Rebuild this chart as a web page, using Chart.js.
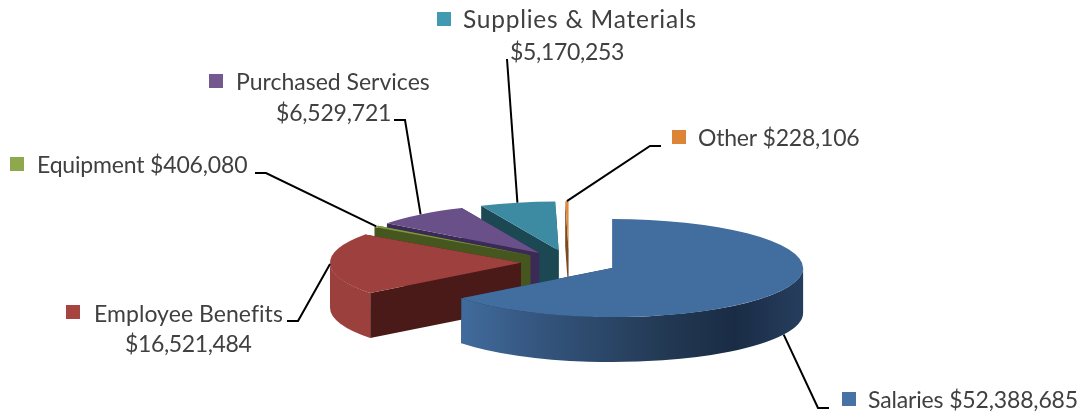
<!DOCTYPE html>
<html>
<head>
    <script src="https://cdnjs.cloudflare.com/ajax/libs/Chart.js/4.4.1/chart.umd.js"></script>
    <style>
      html, body { margin: 0; padding: 0; background: #fff; }
      canvas { display: block; }
    </style>
</head>
<body>

<canvas id="myChart" width="1084" height="417"></canvas>

<script>
// Chart data
const categories = ['Salaries', 'Employee Benefits', 'Equipment', 'Purchased Services', 'Supplies & Materials', 'Other'];
const budgetValues = [52388685, 16521484, 406080, 6529721, 5170253, 228106];

// Slice colours: top face, cut face
const topColors = ['#426d9f', '#9e413e', '#7f9a3f', '#6a5088', '#3c8ba3', '#e08a3c'];
const cutColors = ['#1d3350', '#4a1a19', '#46561f', '#3a2a55', '#1c4853', '#7a4a20'];
const sideColors = ['#1d3350', '#9c403d', '#5c7030', '#4d3a66', '#2c6678', '#a8682c'];
const markerColors = ['#4672a6', '#a8443f', '#8ea84c', '#74598f', '#4199b2', '#dd8436'];

// Label layout: marker corner, text lines as [x, baseline, text, letter spacing, font size], leader elbow points
const money = v => '$' + v.toLocaleString('en-US');
const labelLayout = [
  { marker: [842, 392], lines: [[868, 408, categories[0] + ' ' + money(budgetValues[0]), -0.15, 23]], elbow: [[818, 408], [829, 408]], bottom: true },
  { marker: [66, 305], lines: [[94, 322, categories[1], 0.05, 23], [125, 352, money(budgetValues[1]), -0.36, 23]], elbow: [[298, 321], [287, 321]] },
  { marker: [10, 157], lines: [[37, 173, categories[2] + ' ' + money(budgetValues[2]), -0.17, 23]], elbow: [[266, 173], [255, 173]] },
  { marker: [209, 74], lines: [[236, 90, categories[3], 0, 23], [276, 121, money(budgetValues[3]), -0.2, 23]], elbow: [[405, 120], [394, 120]] },
  { marker: [437, 12], lines: [[463, 28, categories[4], 0.75, 24.5], [510, 60, money(budgetValues[4]), -0.3, 23]], elbow: [[507, 59]] },
  { marker: [672, 130], lines: [[698, 146, categories[5] + ' ' + money(budgetValues[5]), -0.22, 23]], elbow: [[650, 146], [661, 146]] }
];

// Fake 3D settings for the squashed pie
const centerX = 569, centerY = 262.6;
const tilt = 0.257, depth = 45, explode = 48;

// Where a slice sits after pulling it out along its middle angle
function sliceOrigin(arc) {
  const mid = (arc.startAngle + arc.endAngle) / 2;
  return {
    x: centerX + Math.cos(mid) * explode,
    y: centerY + Math.sin(mid) * explode * tilt
  };
}

function drawCutFace(ctx, o, r, angle, color) {
  const ex = o.x + Math.cos(angle) * r;
  const ey = o.y + Math.sin(angle) * r * tilt;
  ctx.fillStyle = color;
  ctx.beginPath();
  ctx.moveTo(o.x, o.y);
  ctx.lineTo(ex, ey);
  ctx.lineTo(ex, ey + depth);
  ctx.lineTo(o.x, o.y + depth);
  ctx.closePath();
  ctx.fill();
}

function drawOuterSide(ctx, o, r, start, end, fill) {
  const a = Math.max(start, 0);
  const b = Math.min(end, Math.PI);
  if (b <= a) return;
  ctx.fillStyle = fill;
  ctx.beginPath();
  ctx.ellipse(o.x, o.y, r, r * tilt, 0, a, b);
  ctx.ellipse(o.x, o.y + depth, r, r * tilt, 0, b, a, true);
  ctx.closePath();
  ctx.fill();
}

const pie3d = {
  id: 'pie3d',
  beforeDatasetsDraw(chart) {
    const ctx = chart.ctx;
    const arcs = chart.getDatasetMeta(0).data;
    // back to front, salaries last because it sits in front of everything
    for (let i = arcs.length - 1; i >= 0; i--) {
      const arc = arcs[i];
      const o = sliceOrigin(arc);
      const r = arc.outerRadius;
      drawCutFace(ctx, o, r, arc.startAngle, cutColors[i]);
      drawCutFace(ctx, o, r, arc.endAngle, cutColors[i]);

      let side = sideColors[i];
      if (i === 0) {
        side = ctx.createLinearGradient(o.x - r, 0, o.x + r, 0);
        side.addColorStop(0, '#426d9f');
        side.addColorStop(0.12, '#406a9a');
        side.addColorStop(0.3, '#35567f');
        side.addColorStop(0.65, '#223852');
        side.addColorStop(0.82, '#1a2c45');
        side.addColorStop(1, '#263e5e');
      }
      drawOuterSide(ctx, o, r, arc.startAngle, arc.endAngle, side);

      ctx.save();
      ctx.translate(o.x, o.y);
      ctx.scale(1, tilt);
      ctx.translate(-arc.x, -arc.y);
      arc.draw(ctx);
      ctx.restore();
    }
    return false;
  },
  // afterDatasetsDraw is skipped once the hook above returns false
  afterDraw(chart) {
    const ctx = chart.ctx;
    const arcs = chart.getDatasetMeta(0).data;
    labelLayout.forEach((lab, i) => {
      const arc = arcs[i];
      const o = sliceOrigin(arc);
      const mid = (arc.startAngle + arc.endAngle) / 2;
      const sx = o.x + Math.cos(mid) * arc.outerRadius;
      const sy = o.y + Math.sin(mid) * arc.outerRadius * tilt + (lab.bottom ? depth : 0);
      ctx.strokeStyle = '#000';
      ctx.lineWidth = 2;
      ctx.beginPath();
      ctx.moveTo(sx, sy);
      lab.elbow.forEach(p => ctx.lineTo(p[0], p[1]));
      ctx.stroke();

      ctx.fillStyle = markerColors[i];
      ctx.fillRect(lab.marker[0], lab.marker[1], 14, 14);

      ctx.fillStyle = '#404040';
      ctx.textBaseline = 'alphabetic';
      lab.lines.forEach(l => {
        ctx.font = l[4] + 'px Lato';
        ctx.letterSpacing = l[3] + 'px';
        ctx.fillText(l[2], l[0], l[1]);
      });
      ctx.letterSpacing = '0px';
    });
  }
};

const myChart = new Chart(document.getElementById('myChart').getContext('2d'), {
  type: 'pie',
  data: {
    labels: categories,
    datasets: [{
      data: budgetValues,
      backgroundColor: topColors,
      borderWidth: 0
    }]
  },
  options: {
    responsive: false,
    animation: false,
    radius: 191,
    plugins: {
      legend: { display: false },
      tooltip: { enabled: false }
    }
  },
  plugins: [pie3d]
});
</script>

</body>
</html>
